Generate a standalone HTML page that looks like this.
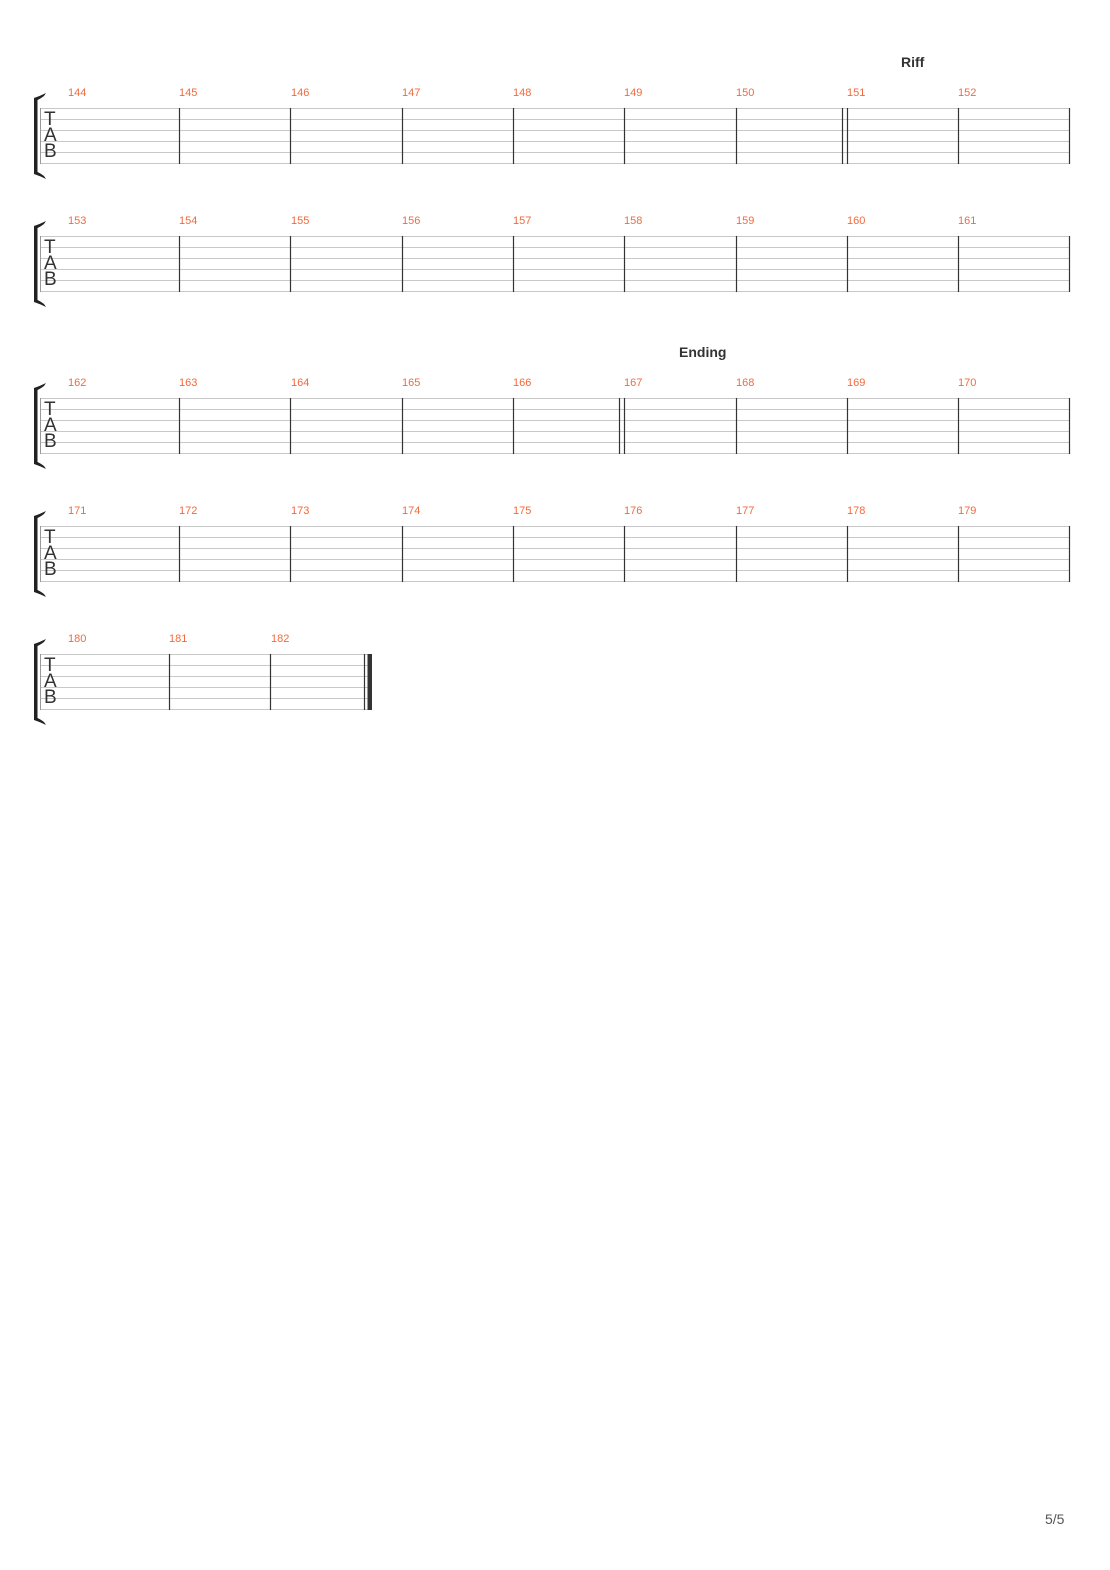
<!DOCTYPE html>
<html><head><meta charset="utf-8"><style>
html,body{margin:0;padding:0;background:#fff;}
svg{display:block;}
text{font-family:"Liberation Sans",sans-serif;}
.n{fill:#f26a3d;font-size:11px;}
.t{fill:#333;font-size:19px;}
.h{fill:#333;font-size:14px;font-weight:bold;}
</style></head><body>
<svg width="1110" height="1570" viewBox="0 0 1110 1570" xmlns="http://www.w3.org/2000/svg">
<defs>
<g id="lines" stroke="#c8c8c8" stroke-width="1">
<line x1="40" y1="0.5" x2="1070" y2="0.5"/><line x1="40" y1="11.5" x2="1070" y2="11.5"/><line x1="40" y1="22.5" x2="1070" y2="22.5"/><line x1="40" y1="33.5" x2="1070" y2="33.5"/><line x1="40" y1="44.5" x2="1070" y2="44.5"/><line x1="40" y1="55.5" x2="1070" y2="55.5"/>
</g>
<g id="lines5" stroke="#c8c8c8" stroke-width="1">
<line x1="40" y1="0.5" x2="368" y2="0.5"/><line x1="40" y1="11.5" x2="368" y2="11.5"/><line x1="40" y1="22.5" x2="368" y2="22.5"/><line x1="40" y1="33.5" x2="368" y2="33.5"/><line x1="40" y1="44.5" x2="368" y2="44.5"/><line x1="40" y1="55.5" x2="368" y2="55.5"/>
</g>
<g id="brk">
<rect x="34" y="-10" width="3.5" height="76" fill="#222"/>
<path d="M34,-10 Q40,-12 46,-15 L44,-12 Q40,-9 37.5,-8 Z" fill="#222"/>
<path d="M34,66 Q40,68 46,71 L44,68 Q40,65 37.5,64 Z" fill="#222"/>
<line x1="40.5" y1="0" x2="40.5" y2="56" stroke="#999" stroke-width="1"/>
</g>
<g id="bars" stroke="#333" stroke-width="1.2">
<line x1="179.5" y1="0" x2="179.5" y2="56"/><line x1="290.5" y1="0" x2="290.5" y2="56"/><line x1="402.5" y1="0" x2="402.5" y2="56"/><line x1="513.5" y1="0" x2="513.5" y2="56"/><line x1="624.5" y1="0" x2="624.5" y2="56"/><line x1="736.5" y1="0" x2="736.5" y2="56"/><line x1="958.5" y1="0" x2="958.5" y2="56"/><line x1="1069.5" y1="0" x2="1069.5" y2="56"/>
</g>
<g id="tab">
<text class="t" x="44" y="17">T</text><text class="t" x="44" y="33">A</text><text class="t" x="44" y="49">B</text>
</g>
</defs>

<text class="h" x="901" y="67">Riff</text>
<text class="h" x="679" y="357">Ending</text>

<g transform="translate(0,108)">
<use href="#lines"/><use href="#brk"/><use href="#bars"/>
<g stroke="#333" stroke-width="1.2"><line x1="842.5" y1="0" x2="842.5" y2="56"/><line x1="847.5" y1="0" x2="847.5" y2="56"/></g>
<text class="t" x="44" y="17">T</text><text class="t" x="44" y="33">A</text><text class="t" x="44" y="49">B</text>
<g class="n"><text x="68" y="-12">144</text><text x="179" y="-12">145</text><text x="291" y="-12">146</text><text x="402" y="-12">147</text><text x="513" y="-12">148</text><text x="624" y="-12">149</text><text x="736" y="-12">150</text><text x="847" y="-12">151</text><text x="958" y="-12">152</text></g>
</g>

<g transform="translate(0,236)">
<use href="#lines"/><use href="#brk"/><use href="#bars"/>
<line x1="847.5" y1="0" x2="847.5" y2="56" stroke="#333" stroke-width="1.2"/>
<text class="t" x="44" y="17">T</text><text class="t" x="44" y="33">A</text><text class="t" x="44" y="49">B</text>
<g class="n"><text x="68" y="-12">153</text><text x="179" y="-12">154</text><text x="291" y="-12">155</text><text x="402" y="-12">156</text><text x="513" y="-12">157</text><text x="624" y="-12">158</text><text x="736" y="-12">159</text><text x="847" y="-12">160</text><text x="958" y="-12">161</text></g>
</g>

<g transform="translate(0,398)">
<use href="#lines"/><use href="#brk"/><use href="#bars"/>
<g stroke="#333" stroke-width="1.2"><line x1="619.5" y1="0" x2="619.5" y2="56"/><line x1="847.5" y1="0" x2="847.5" y2="56"/></g>
<text class="t" x="44" y="17">T</text><text class="t" x="44" y="33">A</text><text class="t" x="44" y="49">B</text>
<g class="n"><text x="68" y="-12">162</text><text x="179" y="-12">163</text><text x="291" y="-12">164</text><text x="402" y="-12">165</text><text x="513" y="-12">166</text><text x="624" y="-12">167</text><text x="736" y="-12">168</text><text x="847" y="-12">169</text><text x="958" y="-12">170</text></g>
</g>

<g transform="translate(0,526)">
<use href="#lines"/><use href="#brk"/><use href="#bars"/>
<line x1="847.5" y1="0" x2="847.5" y2="56" stroke="#333" stroke-width="1.2"/>
<text class="t" x="44" y="17">T</text><text class="t" x="44" y="33">A</text><text class="t" x="44" y="49">B</text>
<g class="n"><text x="68" y="-12">171</text><text x="179" y="-12">172</text><text x="291" y="-12">173</text><text x="402" y="-12">174</text><text x="513" y="-12">175</text><text x="624" y="-12">176</text><text x="736" y="-12">177</text><text x="847" y="-12">178</text><text x="958" y="-12">179</text></g>
</g>

<g transform="translate(0,654)">
<use href="#lines5"/><use href="#brk"/>
<g stroke="#333" stroke-width="1.2"><line x1="169.5" y1="0" x2="169.5" y2="56"/><line x1="270.5" y1="0" x2="270.5" y2="56"/><line x1="364.5" y1="0" x2="364.5" y2="56"/></g>
<rect x="367.5" y="0" width="4.5" height="56" fill="#333"/>
<text class="t" x="44" y="17">T</text><text class="t" x="44" y="33">A</text><text class="t" x="44" y="49">B</text>
<g class="n"><text x="68" y="-12">180</text><text x="169" y="-12">181</text><text x="271" y="-12">182</text></g>
</g>

<text x="1045" y="1524" style="fill:#555;font-size:14px;">5/5</text>
</svg>
</body></html>
